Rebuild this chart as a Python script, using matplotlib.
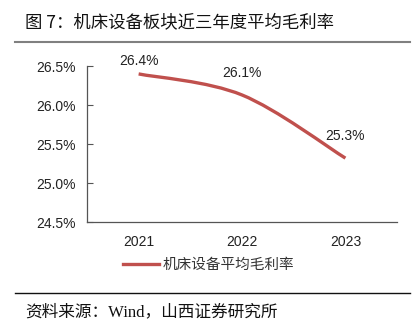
import matplotlib.pyplot as plt
from matplotlib.path import Path
from matplotlib.patches import PathPatch
from matplotlib.lines import Line2D

years = ["2021", "2022", "2023"]
margin = [26.40, 26.13, 25.32]
labels = ["26.4%", "26.1%", "25.3%"]
yticks = [24.5, 25.0, 25.5, 26.0, 26.5]

plt.rcParams['font.family'] = ['Liberation Sans', 'Noto Sans CJK SC']
red = "#C0504D"

fig = plt.figure(figsize=(4.18, 3.29), dpi=100)
ax = fig.add_axes([0.208, 0.325, 0.742, 0.474])

# smoothed line like excel (catmull-rom bezier through the points)
xs = list(range(len(years)))
pts = list(zip(xs, margin))
verts = [pts[0]]
codes = [Path.MOVETO]
for i in range(len(pts) - 1):
    p0 = pts[i - 1] if i > 0 else pts[i]
    p1 = pts[i]
    p2 = pts[i + 1]
    p3 = pts[i + 2] if i + 2 < len(pts) else pts[i + 1]
    c1 = (p1[0] + (p2[0] - p0[0]) / 6, p1[1] + (p2[1] - p0[1]) / 6)
    c2 = (p2[0] - (p3[0] - p1[0]) / 6, p2[1] - (p3[1] - p1[1]) / 6)
    verts += [c1, c2, p2]
    codes += [Path.CURVE4] * 3
ax.add_patch(PathPatch(Path(verts, codes), facecolor="none", edgecolor=red,
                       lw=2.4, capstyle="butt"))

# labels sit above the points; the first one is pushed down by the plot top
label_off = [4.5, 11, 11]
for x, y, t, off in zip(xs, margin, labels, label_off):
    ax.annotate(t, (x, y), xytext=(0, off), textcoords="offset points",
                ha="center", va="bottom", fontsize=10, color="#222222",
                annotation_clip=False)

ax.set_xlim(-0.5, 2.5)
ax.set_ylim(24.5, 26.5)
ax.set_xticks(xs)
ax.set_xticklabels(years)
ax.set_yticks(yticks)
ax.set_yticklabels([f"{v:.1f}%" for v in yticks])
ax.tick_params(axis="x", length=0, pad=9, labelsize=10, labelcolor="#222222")
ax.tick_params(axis="y", direction="in", length=4, width=0.8, color="#555555",
               pad=8, labelsize=10, labelcolor="#222222")
for s in ["top", "right"]:
    ax.spines[s].set_visible(False)
for s in ["left", "bottom"]:
    ax.spines[s].set_color("#555555")
    ax.spines[s].set_linewidth(0.9)

leg = fig.legend(handles=[Line2D([], [], color=red, lw=2.4)],
                 labels=["机床设备平均毛利率"], loc="center",
                 bbox_to_anchor=(0.5, 0.195), frameon=False,
                 handlelength=2.4, handletextpad=0.3,
                 prop={"family": ["Noto Sans CJK SC"], "size": 10.5})
for t in leg.get_texts():
    t.set_color("#333333")

fig.text(0.06, 0.931, "图 7：机床设备板块近三年度平均毛利率", fontsize=12.5,
         family=["Noto Sans CJK SC"], va="center", ha="left", color="#111111")
fig.add_artist(Line2D([0.035, 0.98], [0.872, 0.872], color="#808080", lw=1.5))
fig.add_artist(Line2D([0.035, 0.98], [0.109, 0.109], color="#111111", lw=1.0))
fig.text(0.06, 0.052, "资料来源：Wind，山西证券研究所", fontsize=12,
         family=["Liberation Serif", "Noto Sans CJK SC"],
         va="center", ha="left", color="#111111")

fig.savefig("out.png", dpi=100)
